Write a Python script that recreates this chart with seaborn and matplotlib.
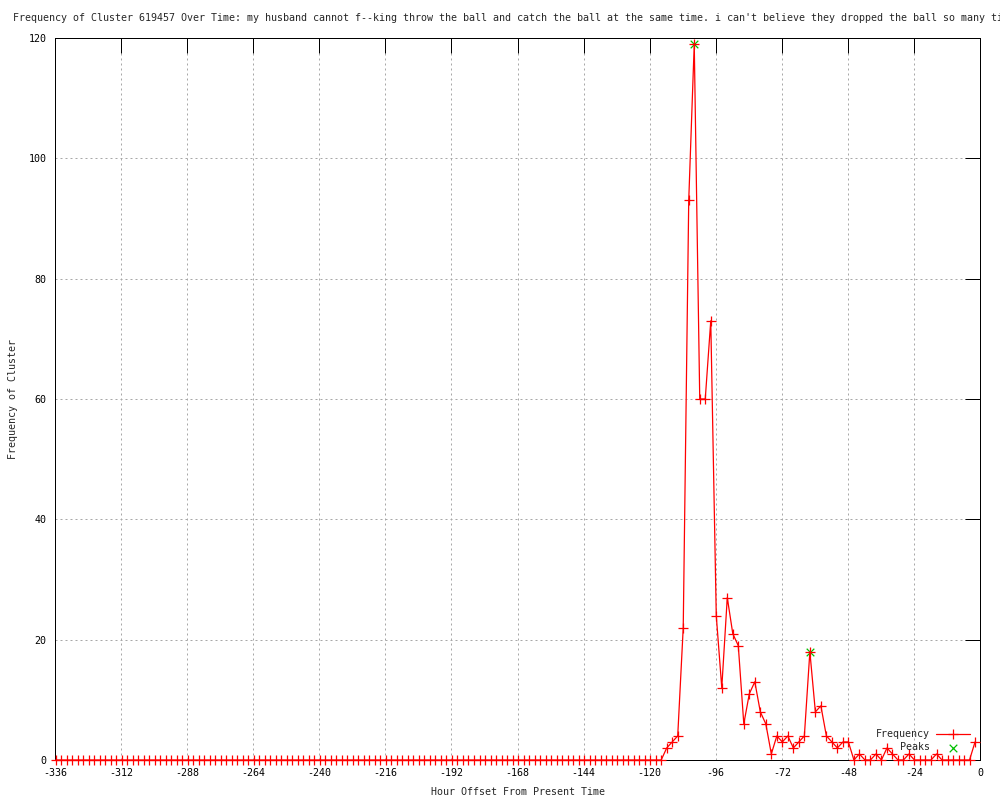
import matplotlib
matplotlib.use("Agg")
import matplotlib.pyplot as plt
import seaborn as sns
import numpy as np
import pandas as pd

# time axis: one sample every 2 hours, last sample 1.8 h before "now"
hours = np.linspace(-335.8, -1.8, 168)

frequency = [
    0, 0, 0, 0, 0, 0, 0, 0, 0, 0, 0, 0, 0, 0, 0, 0, 0, 0, 0, 0,
    0, 0, 0, 0, 0, 0, 0, 0, 0, 0, 0, 0, 0, 0, 0, 0, 0, 0, 0, 0,
    0, 0, 0, 0, 0, 0, 0, 0, 0, 0, 0, 0, 0, 0, 0, 0, 0, 0, 0, 0,
    0, 0, 0, 0, 0, 0, 0, 0, 0, 0, 0, 0, 0, 0, 0, 0, 0, 0, 0, 0,
    0, 0, 0, 0, 0, 0, 0, 0, 0, 0, 0, 0, 0, 0, 0, 0, 0, 0, 0, 0,
    0, 0, 0, 0, 0, 0, 0, 0, 0, 0,
    0, 2, 3, 4, 22, 93, 119, 60, 60, 73,
    24, 12, 27, 21, 19, 6, 11, 13, 8, 6,
    1, 4, 3, 4, 2, 3, 4, 18, 8, 9,
    4, 3, 2, 3, 3, 0, 1, 0, 0, 1,
    0, 2, 1, 0, 0, 1, 0, 0, 0, 0,
    1, 0, 0, 0, 0, 0, 0, 3,
]

peak_hours = [-103.8, -61.8]
peak_values = [119, 18]

x_ticks = list(range(-336, 1, 24))
y_ticks = list(range(0, 121, 20))

titulo = ("Frequency of Cluster 619457 Over Time: my husband cannot f--king throw "
          "the ball and catch the ball at the same time. i can't believe they "
          "dropped the ball so many times")

sns.set_theme(style="white")
plt.rcParams['font.family'] = ['DejaVu Sans Mono']
plt.rcParams['axes.unicode_minus'] = False

fig = plt.figure(figsize=(10, 8), dpi=100)
ax = fig.add_axes([0.055, 0.05, 0.925, 0.9025])

df = pd.DataFrame({'hour': hours, 'freq': frequency})
sns.lineplot(data=df, x='hour', y='freq', ax=ax, color='red', linewidth=0.9,
             marker='+', markersize=7, markeredgewidth=0.9,
             markeredgecolor='red', label='Frequency', clip_on=False, zorder=3)
sns.scatterplot(x=peak_hours, y=peak_values, ax=ax, marker='x', color='#00c000',
                s=30, linewidth=0.9, label='Peaks', zorder=2, clip_on=False)

ax.set_xlim(-336, 0)
ax.set_ylim(0, 120)
ax.set_xticks(x_ticks)
ax.set_yticks(y_ticks)
ax.set_xlabel('')
ax.set_ylabel('')
ax.tick_params(direction='in', length=11, width=0.72, top=True, right=True,
               labelsize=7.2, pad=6, colors='black')
ax.grid(True, color='#a8a8a8', linestyle=(0, (2, 3)), linewidth=0.72)
for s in ax.spines.values():
    s.set_color('black')
    s.set_linewidth(0.72)

ax.legend(loc='lower right', bbox_to_anchor=(0.975, 0.0535),
          bbox_transform=fig.transFigure, frameon=False, markerfirst=False,
          numpoints=1, scatterpoints=1, handlelength=3.4, handletextpad=0.6,
          labelspacing=0.3, borderpad=0, fontsize=7.2)

# the reference title runs past the right edge of the figure
fig.text(0.013, 0.9775, titulo, ha='left', va='center', fontsize=7.2)
fig.text(0.518, 0.01, 'Hour Offset From Present Time', ha='center', va='center', fontsize=7.2)
fig.text(0.013, 0.50125, 'Frequency of Cluster', ha='center', va='center',
         rotation=90, fontsize=7.2)

fig.savefig('out.png', dpi=100)
